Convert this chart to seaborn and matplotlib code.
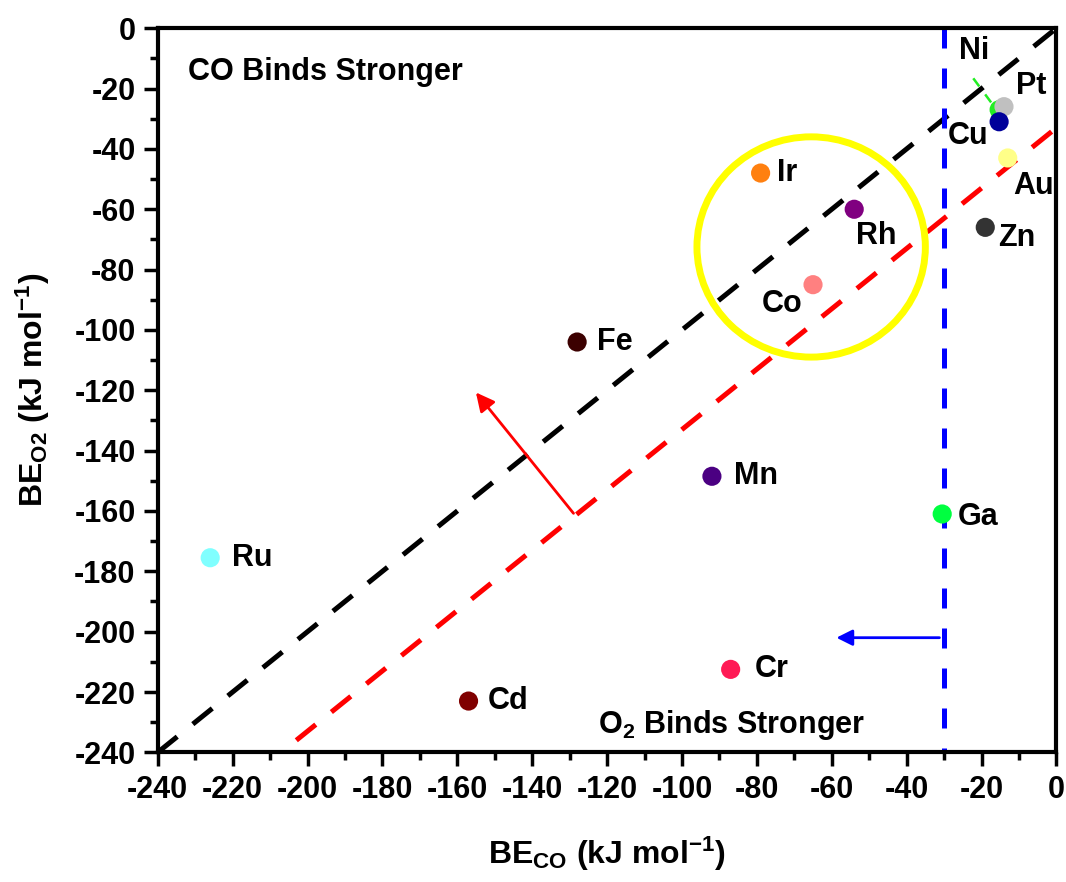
import matplotlib
matplotlib.use("Agg")
import matplotlib.pyplot as plt
import seaborn as sns
import pandas as pd
from matplotlib.patches import Ellipse

# ---- data ----
metals = ["Ni", "Pt", "Cu", "Au", "Zn", "Ir", "Rh", "Co", "Fe", "Mn", "Ga", "Ru", "Cr", "Cd"]
be_co = [-15.3, -14, -15.3, -13, -19, -79, -54, -65, -128, -92, -30.5, -226, -87, -157]
be_o2 = [-27, -26, -31, -43, -66, -48, -60, -85, -104, -148.5, -161, -175.5, -212.5, -223]
colors = ["#22ee22", "#c0c0c0", "#00009a", "#ffff88", "#333333", "#ff8010", "#800080",
          "#ff8080", "#3c0000", "#4b0082", "#00ff40", "#80ffff", "#ff1a55", "#800000"]
label_offsets = [(-29, 42), (9, 15), (-37, -10), (4, -20), (9, -8), (12, 0), (1, -19),
                 (-37, -14), (14, 0), (16, 0), (11, -2), (16, 0), (17, 0), (14, 0)]

ticks = list(range(-240, 1, 20))
red_offset = -33          # red dashed line: y = x + red_offset
red_x_start = -203
blue_x = -30
circle_center = (-65.5, -72.5)
circle_w, circle_h = 61, 73

df = pd.DataFrame({"metal": metals, "BE_CO": be_co, "BE_O2": be_o2})

sns.set_style("white")
plt.rcParams["font.family"] = ["Liberation Sans", "DejaVu Sans"]
plt.rcParams["font.weight"] = "bold"
plt.rcParams["text.color"] = "black"
plt.rcParams["axes.labelcolor"] = "black"
plt.rcParams["xtick.color"] = "black"
plt.rcParams["ytick.color"] = "black"
plt.rcParams["axes.unicode_minus"] = False
plt.rcParams["mathtext.fontset"] = "custom"
plt.rcParams["mathtext.rm"] = "Liberation Sans:bold"
plt.rcParams["mathtext.bf"] = "Liberation Sans:bold"
plt.rcParams["mathtext.default"] = "bf"

fig = plt.figure(figsize=(10.66, 8.82), dpi=100)
ax = fig.add_axes([0.148, 0.147, 0.843, 0.821])

# reference lines
ax.plot([-240, 0], [-240, 0], color="black", lw=3.6, linestyle=(0, (5, 4)), zorder=1)
ax.plot([red_x_start, 0], [red_x_start + red_offset, red_offset], color="red", lw=3.6,
        linestyle=(0, (5, 4)), zorder=1)
ax.plot([blue_x, blue_x], [0, -240], color="#0000ff", lw=3.6, linestyle=(0, (4, 4)), zorder=1)
# Ni leader
ax.plot([-22.2, -16.3], [-16.6, -26.5], color="#22ee22", lw=1.8, linestyle=(0, (4, 4)), zorder=1)

# arrows
ax.annotate("", xy=(-155.5, -120), xytext=(-128.5, -161.5),
            arrowprops=dict(arrowstyle="-|>", color="red", lw=2, mutation_scale=28))
ax.annotate("", xy=(-59.5, -202), xytext=(-30.5, -202),
            arrowprops=dict(arrowstyle="-|>", color="#0000ff", lw=2, mutation_scale=24))

# yellow circle
ax.add_patch(Ellipse(circle_center, circle_w, circle_h, fill=False, edgecolor="#ffff00",
                     lw=5, zorder=1))

sns.scatterplot(data=df, x="BE_CO", y="BE_O2", hue="metal", palette=colors, s=190,
                edgecolor="none", legend=False, ax=ax, zorder=3)

for m, x, y, off in zip(metals, be_co, be_o2, label_offsets):
    ax.annotate(m, (x, y), xytext=off, textcoords="offset points", ha="left", va="center",
                fontsize=22, fontweight="bold", zorder=4)

ax.text(-232, -14.5, "CO Binds Stronger", fontsize=22, fontweight="bold", va="center")
ax.text(-122.5, -231, "O$_2$ Binds Stronger", fontsize=22, fontweight="bold", va="center")

ax.set_xlim(-240, 0)
ax.set_ylim(-240, 0)
ax.set_xticks(ticks)
ax.set_yticks(ticks)
ax.set_xticks(range(-230, 0, 20), minor=True)
ax.set_yticks(range(-230, 0, 20), minor=True)
ax.tick_params(axis="both", which="major", direction="out", length=10, width=2.5,
               labelsize=22, bottom=True, left=True, top=False, right=False, pad=6)
ax.tick_params(axis="both", which="minor", direction="out", length=6, width=2.5,
               bottom=True, left=True, top=False, right=False)
for lab in ax.get_xticklabels() + ax.get_yticklabels():
    lab.set_fontweight("bold")
for sp in ax.spines.values():
    sp.set_linewidth(3)
    sp.set_color("black")

ax.set_xlabel("BE$_{CO}$ (kJ mol$^{-1}$)", fontsize=23, fontweight="bold", labelpad=22)
ax.set_ylabel("BE$_{O2}$ (kJ mol$^{-1}$)", fontsize=23, fontweight="bold", labelpad=16)

fig.savefig("out.png", dpi=100)
